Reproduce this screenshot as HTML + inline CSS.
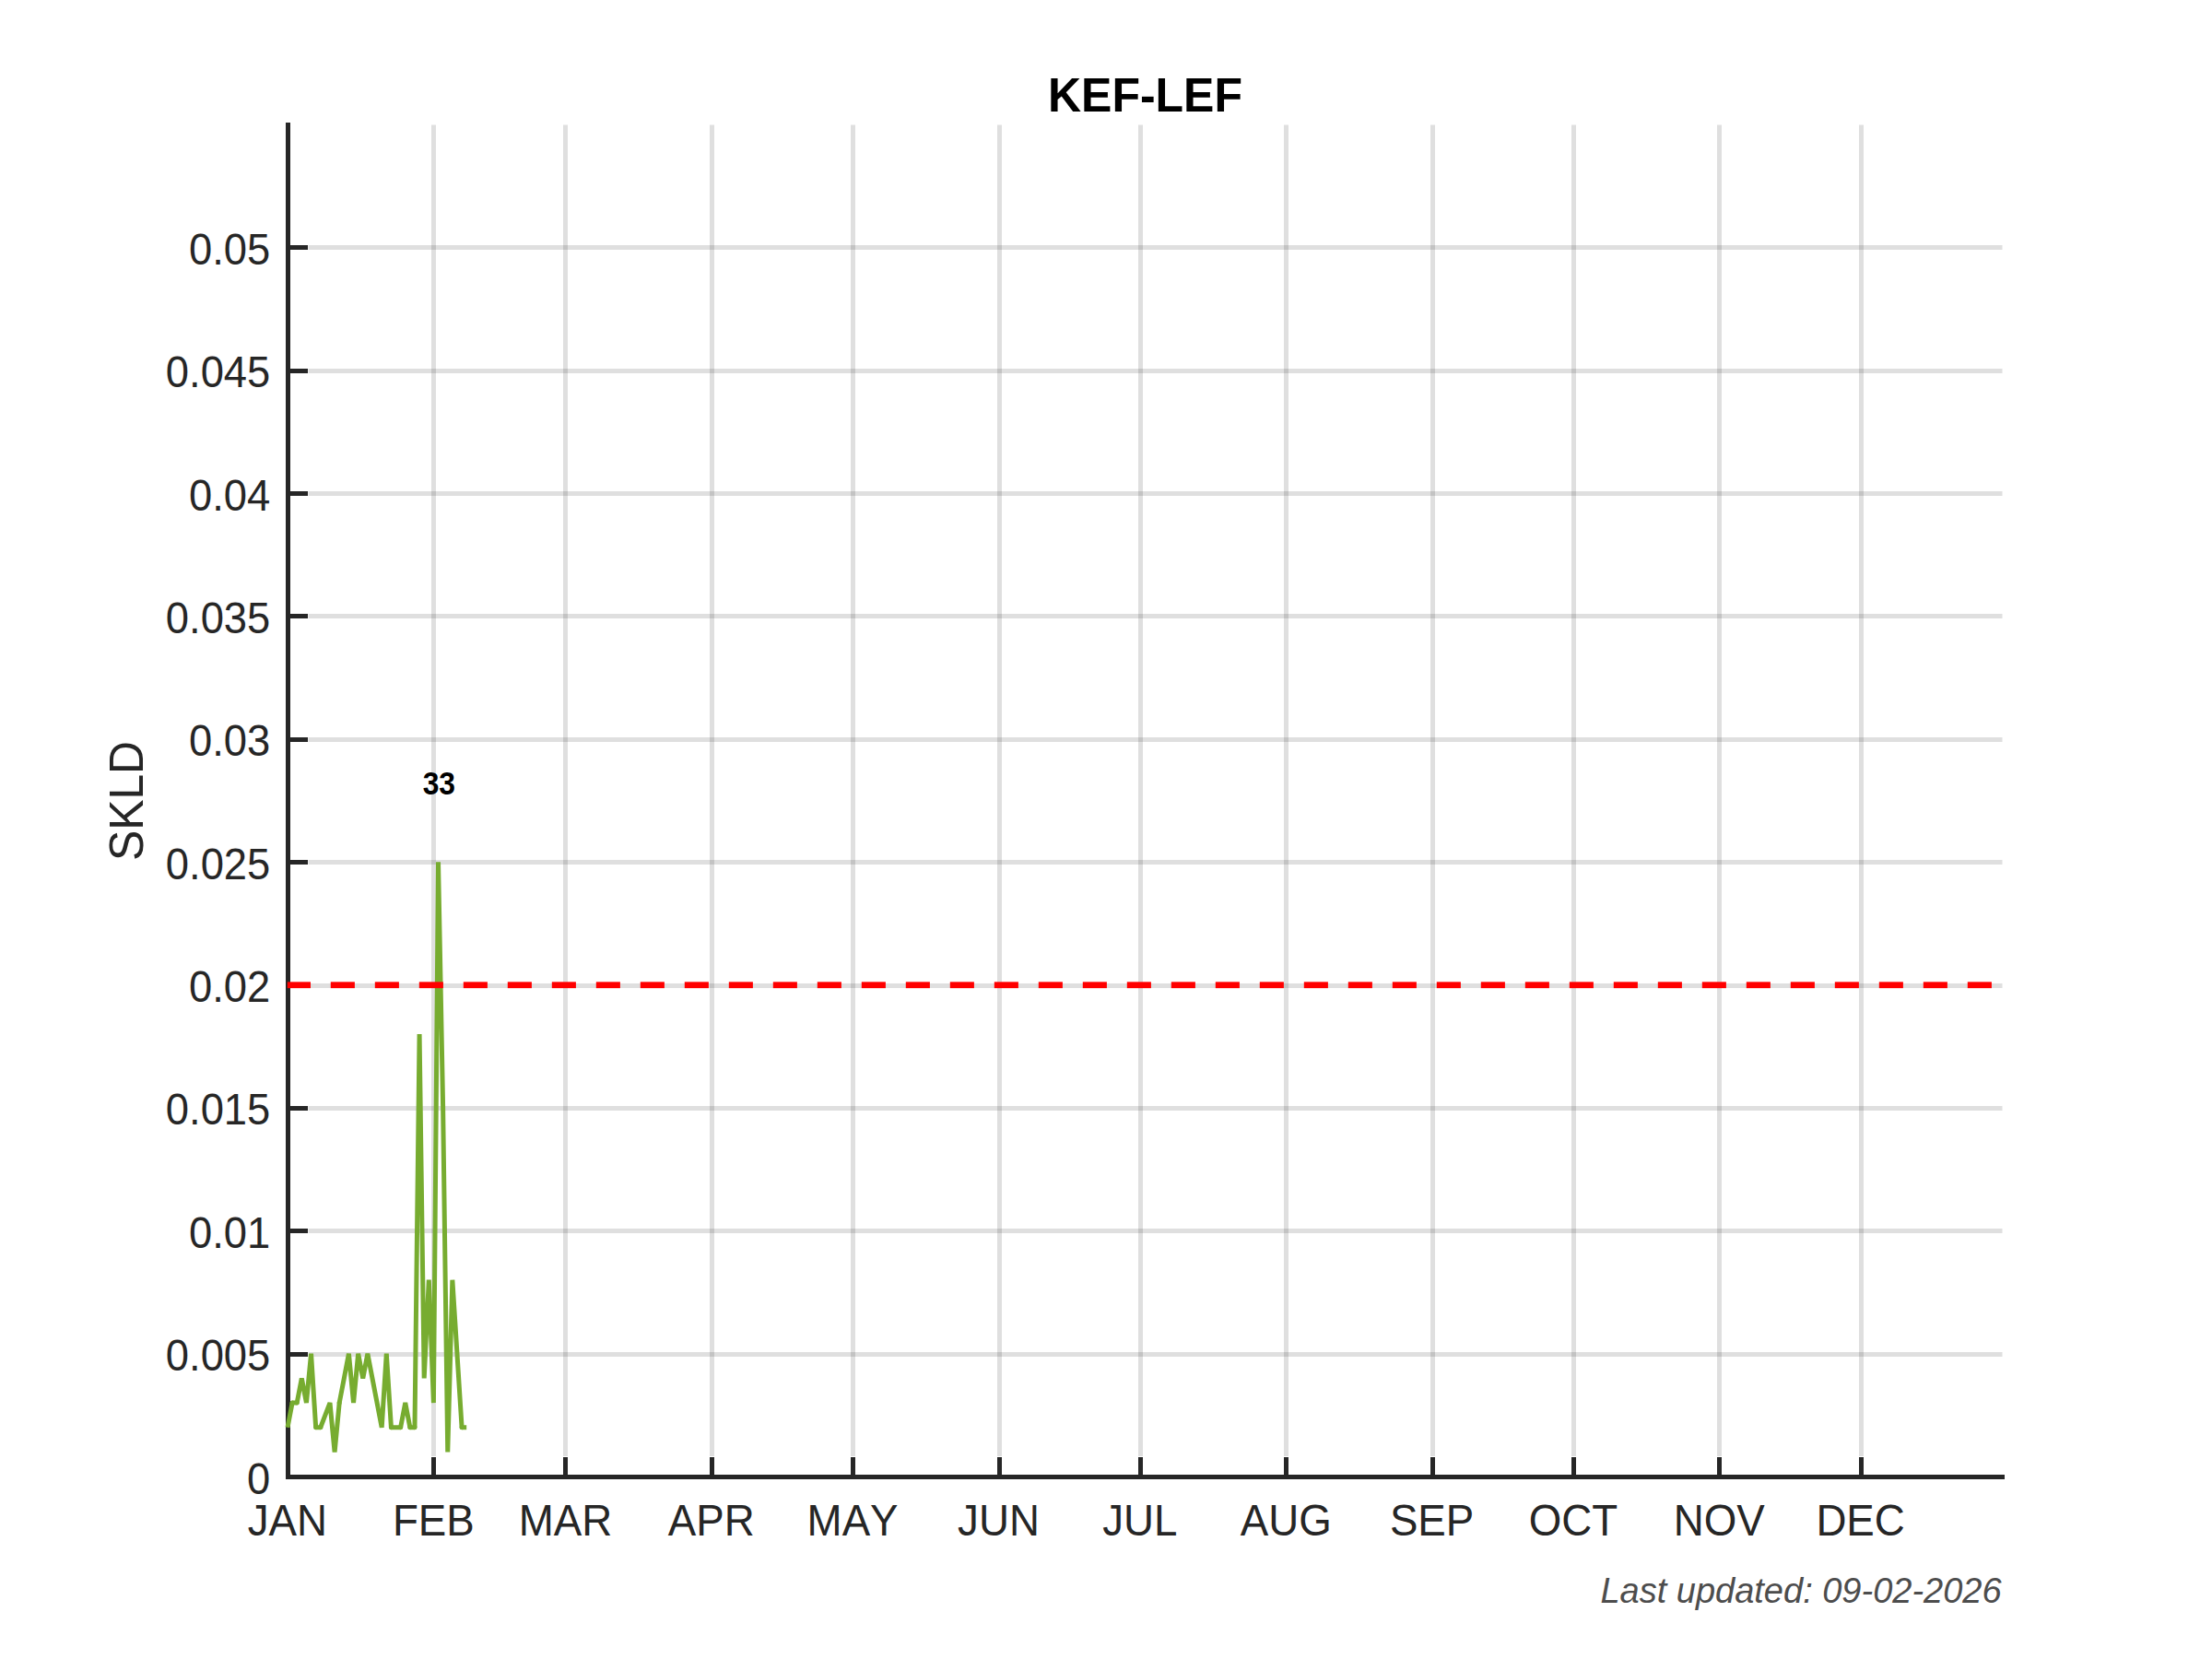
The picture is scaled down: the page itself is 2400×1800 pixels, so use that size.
<!DOCTYPE html>
<html lang="en"><head><meta charset="utf-8"><title>KEF-LEF</title>
<style>html,body{margin:0;padding:0;background:#fff;}body{width:2400px;height:1800px;overflow:hidden;}svg{display:block;}text{font-family:"Liberation Sans",Arial,Helvetica,sans-serif;font-kerning:none;}</style></head><body>
<svg width="2400" height="1800" viewBox="0 0 2400 1800">
<rect x="0" y="0" width="2400" height="1800" fill="#ffffff"/>
<g fill="rgba(38,38,38,0.15)">
<rect x="468" y="135.5" width="5" height="1444.5"/>
<rect x="611" y="135.5" width="5" height="1444.5"/>
<rect x="770" y="135.5" width="5" height="1444.5"/>
<rect x="923" y="135.5" width="5" height="1444.5"/>
<rect x="1082" y="135.5" width="5" height="1444.5"/>
<rect x="1235" y="135.5" width="5" height="1444.5"/>
<rect x="1393" y="135.5" width="5" height="1444.5"/>
<rect x="1552" y="135.5" width="5" height="1444.5"/>
<rect x="1705" y="135.5" width="5" height="1444.5"/>
<rect x="1863" y="135.5" width="5" height="1444.5"/>
<rect x="2017" y="135.5" width="5" height="1444.5"/>
<rect x="334.5" y="1467" width="1838" height="5"/>
<rect x="334.5" y="1333" width="1838" height="5"/>
<rect x="334.5" y="1200" width="1838" height="5"/>
<rect x="334.5" y="1067" width="1838" height="5"/>
<rect x="334.5" y="933" width="1838" height="5"/>
<rect x="334.5" y="800" width="1838" height="5"/>
<rect x="334.5" y="666" width="1838" height="5"/>
<rect x="334.5" y="533" width="1838" height="5"/>
<rect x="334.5" y="400" width="1838" height="5"/>
<rect x="334.5" y="266" width="1838" height="5"/>
</g>
<g fill="#262626" shape-rendering="crispEdges">
<rect x="310" y="133" width="5" height="1472"/>
<rect x="310" y="1600" width="1865" height="5"/>
<rect x="468" y="1581" width="5" height="21"/>
<rect x="611" y="1581" width="5" height="21"/>
<rect x="770" y="1581" width="5" height="21"/>
<rect x="923" y="1581" width="5" height="21"/>
<rect x="1082" y="1581" width="5" height="21"/>
<rect x="1235" y="1581" width="5" height="21"/>
<rect x="1393" y="1581" width="5" height="21"/>
<rect x="1552" y="1581" width="5" height="21"/>
<rect x="1705" y="1581" width="5" height="21"/>
<rect x="1863" y="1581" width="5" height="21"/>
<rect x="2017" y="1581" width="5" height="21"/>
<rect x="315" y="1467" width="19" height="5"/>
<rect x="315" y="1333" width="19" height="5"/>
<rect x="315" y="1200" width="19" height="5"/>
<rect x="315" y="1067" width="19" height="5"/>
<rect x="315" y="933" width="19" height="5"/>
<rect x="315" y="800" width="19" height="5"/>
<rect x="315" y="666" width="19" height="5"/>
<rect x="315" y="533" width="19" height="5"/>
<rect x="315" y="400" width="19" height="5"/>
<rect x="315" y="266" width="19" height="5"/>
</g>
<clipPath id="axclip"><rect x="302" y="135" width="1870.5" height="1468"/></clipPath>
<g clip-path="url(#axclip)">
<polyline fill="none" stroke="#77AC30" stroke-width="5" stroke-linejoin="bevel" stroke-linecap="butt" points="312.00,1548.75 317.11,1522.08 322.22,1522.08 327.33,1495.41 332.44,1522.08 337.55,1468.74 342.66,1548.75 347.77,1548.75 352.88,1535.42 357.99,1522.08 363.10,1575.43 368.21,1522.08 373.32,1495.41 378.43,1468.74 383.54,1522.08 388.65,1468.74 393.76,1495.41 398.87,1468.74 403.98,1495.41 409.09,1522.08 414.20,1548.75 419.31,1468.74 424.42,1548.75 429.53,1548.75 434.64,1548.75 439.75,1522.08 444.86,1548.75 449.97,1548.75 455.08,1121.99 460.19,1495.41 465.30,1388.72 470.41,1522.08 475.52,935.28 480.63,1202.01 485.74,1575.43 490.85,1388.72 495.96,1468.74 501.07,1548.75 506.18,1548.75"/>
<circle cx="317.11" cy="1522.08" r="2.5" fill="#77AC30"/>
<circle cx="322.22" cy="1522.08" r="2.5" fill="#77AC30"/>
<circle cx="342.66" cy="1548.75" r="2.5" fill="#77AC30"/>
<circle cx="347.77" cy="1548.75" r="2.5" fill="#77AC30"/>
<circle cx="368.21" cy="1522.08" r="2.5" fill="#77AC30"/>
<circle cx="424.42" cy="1548.75" r="2.5" fill="#77AC30"/>
<circle cx="434.64" cy="1548.75" r="2.5" fill="#77AC30"/>
<circle cx="444.86" cy="1548.75" r="2.5" fill="#77AC30"/>
<circle cx="449.97" cy="1548.75" r="2.5" fill="#77AC30"/>
<circle cx="501.07" cy="1548.75" r="2.5" fill="#77AC30"/>
<g fill="#ff0000"><rect x="311.8" y="1065.35" width="25.2" height="6.8"/><rect x="358.8" y="1065.35" width="26.1" height="6.8"/><rect x="406.8" y="1065.35" width="26.1" height="6.8"/><rect x="454.8" y="1065.35" width="26.1" height="6.8"/><rect x="502.8" y="1065.35" width="26.1" height="6.8"/><rect x="550.8" y="1065.35" width="26.1" height="6.8"/><rect x="598.8" y="1065.35" width="26.1" height="6.8"/><rect x="646.8" y="1065.35" width="26.1" height="6.8"/><rect x="694.8" y="1065.35" width="26.1" height="6.8"/><rect x="742.8" y="1065.35" width="26.1" height="6.8"/><rect x="790.8" y="1065.35" width="26.1" height="6.8"/><rect x="838.8" y="1065.35" width="26.1" height="6.8"/><rect x="886.8" y="1065.35" width="26.1" height="6.8"/><rect x="934.8" y="1065.35" width="26.1" height="6.8"/><rect x="982.8" y="1065.35" width="26.1" height="6.8"/><rect x="1030.8" y="1065.35" width="26.1" height="6.8"/><rect x="1078.8" y="1065.35" width="26.1" height="6.8"/><rect x="1126.8" y="1065.35" width="26.1" height="6.8"/><rect x="1174.8" y="1065.35" width="26.1" height="6.8"/><rect x="1222.8" y="1065.35" width="26.1" height="6.8"/><rect x="1270.8" y="1065.35" width="26.1" height="6.8"/><rect x="1318.8" y="1065.35" width="26.1" height="6.8"/><rect x="1366.8" y="1065.35" width="26.1" height="6.8"/><rect x="1414.8" y="1065.35" width="26.1" height="6.8"/><rect x="1462.8" y="1065.35" width="26.1" height="6.8"/><rect x="1510.8" y="1065.35" width="26.1" height="6.8"/><rect x="1558.8" y="1065.35" width="26.1" height="6.8"/><rect x="1606.8" y="1065.35" width="26.1" height="6.8"/><rect x="1654.8" y="1065.35" width="26.1" height="6.8"/><rect x="1702.8" y="1065.35" width="26.1" height="6.8"/><rect x="1750.8" y="1065.35" width="26.1" height="6.8"/><rect x="1798.8" y="1065.35" width="26.1" height="6.8"/><rect x="1846.8" y="1065.35" width="26.1" height="6.8"/><rect x="1894.8" y="1065.35" width="26.1" height="6.8"/><rect x="1942.8" y="1065.35" width="26.1" height="6.8"/><rect x="1990.8" y="1065.35" width="26.1" height="6.8"/><rect x="2038.8" y="1065.35" width="26.1" height="6.8"/><rect x="2086.8" y="1065.35" width="26.1" height="6.8"/><rect x="2134.8" y="1065.35" width="26.1" height="6.8"/></g>
</g>
<g fill="#262626" font-size="45.83px">
<text transform="translate(311.90,1665.80) scale(0.997,1.05)" text-anchor="middle">JAN</text>
<text transform="translate(470.31,1665.80) scale(0.997,1.05)" text-anchor="middle">FEB</text>
<text transform="translate(613.38,1665.80) scale(0.997,1.05)" text-anchor="middle">MAR</text>
<text transform="translate(771.79,1665.80) scale(0.997,1.05)" text-anchor="middle">APR</text>
<text transform="translate(925.09,1665.80) scale(0.997,1.05)" text-anchor="middle">MAY</text>
<text transform="translate(1083.49,1665.80) scale(0.997,1.05)" text-anchor="middle">JUN</text>
<text transform="translate(1236.79,1665.80) scale(0.997,1.05)" text-anchor="middle">JUL</text>
<text transform="translate(1395.20,1665.80) scale(0.997,1.05)" text-anchor="middle">AUG</text>
<text transform="translate(1553.60,1665.80) scale(0.997,1.05)" text-anchor="middle">SEP</text>
<text transform="translate(1706.90,1665.80) scale(0.997,1.05)" text-anchor="middle">OCT</text>
<text transform="translate(1865.31,1665.80) scale(0.997,1.05)" text-anchor="middle">NOV</text>
<text transform="translate(2018.60,1665.80) scale(0.997,1.05)" text-anchor="middle">DEC</text>
<text transform="translate(293.30,1620.50) scale(0.99,1.045)" text-anchor="end">0</text>
<text transform="translate(293.30,1487.14) scale(0.99,1.045)" text-anchor="end">0.005</text>
<text transform="translate(293.30,1353.77) scale(0.99,1.045)" text-anchor="end">0.01</text>
<text transform="translate(293.30,1220.41) scale(0.99,1.045)" text-anchor="end">0.015</text>
<text transform="translate(293.30,1087.05) scale(0.99,1.045)" text-anchor="end">0.02</text>
<text transform="translate(293.30,953.68) scale(0.99,1.045)" text-anchor="end">0.025</text>
<text transform="translate(293.30,820.32) scale(0.99,1.045)" text-anchor="end">0.03</text>
<text transform="translate(293.30,686.95) scale(0.99,1.045)" text-anchor="end">0.035</text>
<text transform="translate(293.30,553.59) scale(0.99,1.045)" text-anchor="end">0.04</text>
<text transform="translate(293.30,420.23) scale(0.99,1.045)" text-anchor="end">0.045</text>
<text transform="translate(293.30,286.86) scale(0.99,1.045)" text-anchor="end">0.05</text>
</g>
<text transform="translate(154.9,869.0) rotate(-90) scale(0.988,1.023)" text-anchor="middle" font-size="50.42px" fill="#262626">SKLD</text>
<text transform="translate(1242.50,121.20) scale(0.991,1.025)" text-anchor="middle" font-size="50.42px" font-weight="bold" fill="#000000">KEF-LEF</text>
<text transform="translate(476.32,861.50) scale(0.954,1.047)" text-anchor="middle" font-size="33.33px" font-weight="bold" fill="#000000">33</text>
<text transform="translate(2171.60,1739.10) scale(1.0135,1.055)" text-anchor="end" font-size="37.5px" font-style="italic" fill="#4d4d4d">Last updated: 09-02-2026</text>
</svg></body></html>
